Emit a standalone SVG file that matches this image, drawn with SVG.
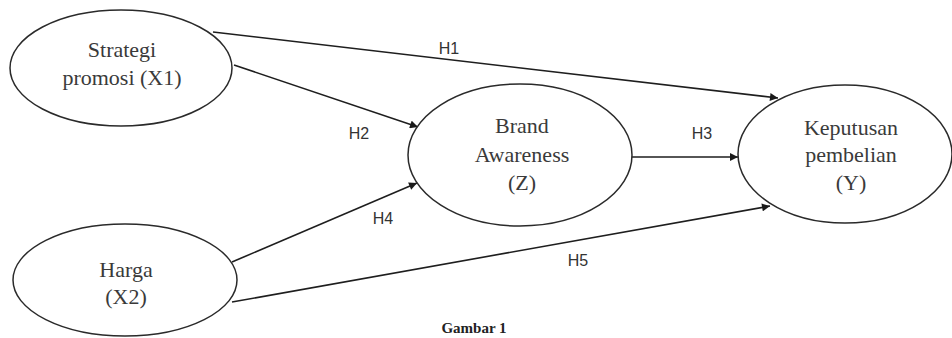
<svg xmlns="http://www.w3.org/2000/svg" width="952" height="338" viewBox="0 0 952 338">
<defs>
<marker id="arr" viewBox="0 0 10 10" refX="10" refY="5" markerWidth="10" markerHeight="8" markerUnits="userSpaceOnUse" orient="auto">
<path d="M0,0 L10,5 L0,10 z" fill="#1a1a1a"/>
</marker>
<style>
.node ellipse{fill:#fff;stroke:#2a2a2a;stroke-width:1.5}
.node text{font-family:"Liberation Serif","Times New Roman",serif;font-size:22px;fill:#3a3a3a;text-anchor:middle}
.edge line{stroke:#1e1e1e;stroke-width:1.6;marker-end:url(#arr)}
.lbl{font-family:"Liberation Sans",Arial,sans-serif;font-size:16px;fill:#333;text-anchor:middle}
.cap{font-family:"Liberation Serif","Times New Roman",serif;font-size:15px;font-weight:bold;fill:#222;text-anchor:middle}
</style>
</defs>
<rect width="952" height="338" fill="#fff"/>
<g id="connectors" class="edge">
<line x1="213" y1="32" x2="778" y2="98"/>
<line x1="234" y1="65" x2="418" y2="127"/>
<line x1="232" y1="262" x2="417" y2="183"/>
<line x1="628" y1="157" x2="738" y2="157"/>
<line x1="232" y1="302" x2="770" y2="206"/>
</g>
<g id="labels">
<text class="lbl" x="449" y="54">H1</text>
<text class="lbl" x="359" y="139">H2</text>
<text class="lbl" x="702" y="139">H3</text>
<text class="lbl" x="383" y="224">H4</text>
<text class="lbl" x="578" y="266">H5</text>
</g>
<g id="X1" class="node">
<ellipse cx="121" cy="68" rx="111" ry="58"/>
<text x="122" y="57">Strategi</text>
<text x="122" y="85">promosi (X1)</text>
</g>
<g id="X2" class="node">
<ellipse cx="125" cy="280" rx="112" ry="56"/>
<text x="126" y="277">Harga</text>
<text x="126" y="304">(X2)</text>
</g>
<g id="Z" class="node">
<ellipse cx="520" cy="155" rx="112" ry="71"/>
<text x="522" y="133">Brand</text>
<text x="522" y="162">Awareness</text>
<text x="522" y="190">(Z)</text>
</g>
<g id="Y" class="node">
<ellipse cx="845" cy="154" rx="107" ry="69"/>
<text x="851" y="135">Keputusan</text>
<text x="851" y="162">pembelian</text>
<text x="851" y="190">(Y)</text>
</g>
<text class="cap" x="474" y="333">Gambar 1</text>
</svg>
